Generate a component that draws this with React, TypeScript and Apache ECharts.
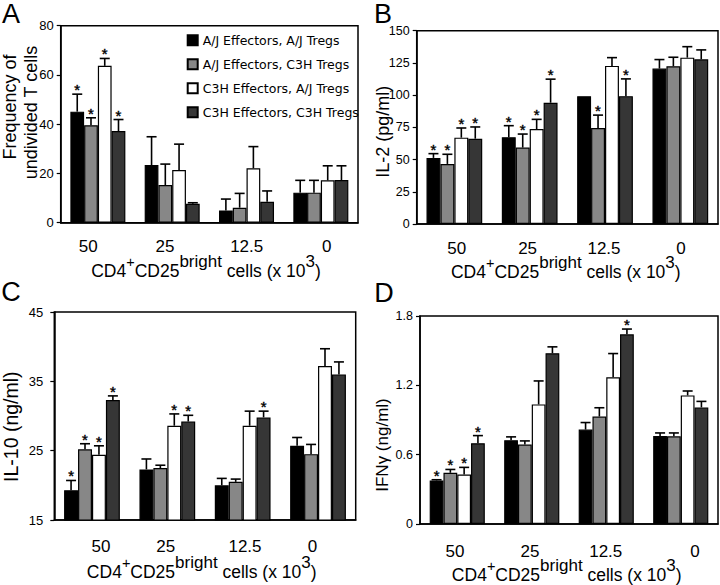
import React, { useEffect, useRef } from 'react';
import * as echarts from 'echarts';

const categories = ['50', '25', '12.5', '0'];
const seriesNames = [
  'A/J Effectors, A/J Tregs',
  'A/J Effectors, C3H Tregs',
  'C3H Effectors, A/J Tregs',
  'C3H Effectors, C3H Tregs',
];

// Panel A: frequency of undivided T cells
const panelATicks = [0, 20, 40, 60, 80];
const panelAMeans = [
  [45.1, 23.4, 5.0, 12.2],
  [39.6, 15.3, 6.1, 12.2],
  [63.7, 21.4, 22.1, 17.2],
  [37.2, 7.7, 8.5, 17.3],
];
const panelAErrors = [
  [7.1, 11.5, 4.6, 5.0],
  [3.0, 8.5, 5.8, 5.0],
  [3.0, 10.5, 8.8, 5.9],
  [4.7, 0.4, 4.4, 5.8],
];
const panelASignificant = [
  [1, 0, 0, 0],
  [1, 0, 0, 0],
  [1, 0, 0, 0],
  [1, 0, 0, 0],
];

// Panel B: IL-2 (pg/ml)
const panelBTicks = [0, 25, 50, 75, 100, 125, 150];
const panelBMeans = [
  [51.3, 67.3, 99.2, 120.6],
  [46.6, 59.3, 74.5, 122.4],
  [67.0, 73.7, 122.7, 129.1],
  [66.2, 94.1, 99.2, 127.8],
];
const panelBErrors = [
  [3.3, 9.0, 0, 7.0],
  [7.5, 10.5, 10.0, 7.0],
  [7.5, 7.5, 6.4, 8.5],
  [9.1, 18.3, 13.4, 7.3],
];
const panelBSignificant = [
  [1, 1, 0, 0],
  [1, 1, 1, 0],
  [1, 1, 0, 0],
  [1, 1, 1, 0],
];

// Panel C: IL-10 (ng/ml)
const panelCTicks = [15, 25, 35, 45];
const panelCMeans = [
  [19.3, 22.3, 20.0, 25.7],
  [25.2, 22.5, 20.5, 24.5],
  [24.4, 28.6, 28.6, 37.2],
  [32.3, 29.2, 29.8, 36.0],
];
const panelCErrors = [
  [1.4, 1.5, 1.0, 1.2],
  [0.8, 0.4, 0.4, 1.4],
  [1.3, 1.7, 2.1, 2.5],
  [0.6, 0.9, 0.9, 1.8],
];
const panelCSignificant = [
  [1, 0, 0, 0],
  [1, 0, 0, 0],
  [1, 1, 0, 0],
  [1, 1, 1, 0],
];

// Panel D: IFNγ (ng/ml)
const panelDTicks = [0, 0.6, 1.2, 1.8];
const panelDMeans = [
  [0.377, 0.725, 0.817, 0.762],
  [0.443, 0.687, 0.93, 0.759],
  [0.429, 1.035, 1.27, 1.113],
  [0.699, 1.478, 1.641, 1.009],
];
const panelDErrors = [
  [0.006, 0.029, 0.061, 0.026],
  [0.029, 0.032, 0.076, 0.029],
  [0.061, 0.203, 0.205, 0.038],
  [0.066, 0.055, 0.046, 0.052],
];
const panelDSignificant = [
  [1, 0, 0, 0],
  [1, 0, 0, 0],
  [1, 0, 0, 0],
  [1, 0, 1, 0],
];

// x-axis title pieces (text, superscript?)
const xTitlePieces: [string, boolean][] = [
  ['CD4', false],
  ['+', true],
  ['CD25', false],
  ['bright', true],
  [' cells (x 10', false],
  ['3', true],
  [')', false],
];

const COLORS = ['#000000', '#878787', '#ffffff', '#363636'];
const FONT = "'Liberation Sans', Arial, sans-serif";
const LEGEND_FONT = "'DejaVu Sans', Verdana, sans-serif";
const BAR_FRACTION = 0.185;
const TITLE_SIZE = 17.5;
const SUP_SIZE = 17;
const PLUS_SIZE = 14.5;
const SUP_RAISE = 10;

const panels = [
  {
    means: panelAMeans, errs: panelAErrors, sig: panelASignificant, ticks: panelATicks,
    grid: { left: 60.7, top: 25.7, width: 297.3, height: 197 },
    yLabelMargin: 7, yLabelSize: 13, xLabelMargin: 15.5, labelDx: [-9.6, -7.2, 0.2, 6],
    title: { x: 206, baseline: 277 }, letter: { text: 'A', x: 11, y: 14 },
  },
  {
    means: panelBMeans, errs: panelBErrors, sig: panelBSignificant, ticks: panelBTicks,
    grid: { left: 416.7, top: 30.7, width: 301.3, height: 193.3 },
    yLabelMargin: 7, yLabelSize: 12.5, xLabelMargin: 15.5, labelDx: [2.4, -2.1, -1, 0.7],
    title: { x: 565.8, baseline: 278 }, letter: { text: 'B', x: 383, y: 14 },
  },
  {
    means: panelCMeans, errs: panelCErrors, sig: panelCSignificant, ticks: panelCTicks,
    grid: { left: 54.3, top: 312, width: 301.4, height: 208 },
    yLabelMargin: 11, yLabelSize: 13, xLabelMargin: 18.2, labelDx: [9, -1.5, 2.3, -5.5],
    title: { x: 201.7, baseline: 578.3 }, letter: { text: 'C', x: 11, y: 292 },
  },
  {
    means: panelDMeans, errs: panelDErrors, sig: panelDSignificant, ticks: panelDTicks,
    grid: { left: 420, top: 316, width: 298, height: 208 },
    yLabelMargin: 7, yLabelSize: 12.5, xLabelMargin: 19, labelDx: [-2.2, -1.7, -0.5, 14.2],
    title: { x: 566.7, baseline: 581 }, letter: { text: 'D', x: 384, y: 293 },
  },
];

const yTitles = [
  { text: 'Frequency of', x: 10, y: 107, size: 18 },
  { text: 'undivided T cells', x: 31, y: 112.5, size: 18 },
  { text: 'IL-2 (pg/ml)', x: 382.5, y: 131.7, size: 18 },
  { text: 'IL-10 (ng/ml)', x: 10.5, y: 426.7, size: 19.5 },
  { text: 'IFNγ (ng/ml)', x: 382.3, y: 445, size: 17 },
];

let measureCtx: CanvasRenderingContext2D | null = null;
function measure(text: string, size: number): number {
  if (!measureCtx) {
    measureCtx = document.createElement('canvas').getContext('2d');
  }
  if (!measureCtx) return text.length * size * 0.55;
  measureCtx.font = `${size}px ${FONT}`;
  return measureCtx.measureText(text).width;
}

function xTitleElements(cx: number, baseline: number): any[] {
  const items = xTitlePieces.map(([t, sup]) => {
    const size = sup ? (t === '+' ? PLUS_SIZE : SUP_SIZE) : TITLE_SIZE;
    const lead = t.startsWith(' ') ? measure(' ', TITLE_SIZE) : 0;
    const text = t.trim();
    return { text, sup, size, lead, w: measure(text, size) };
  });
  const total = items.reduce((a, it) => a + it.lead + it.w, 0);
  let x = cx - total / 2;
  const els: any[] = [];
  items.forEach((it) => {
    x += it.lead;
    const base = it.sup ? baseline - SUP_RAISE : baseline;
    els.push({
      type: 'text', x, y: base - 0.3465 * it.size, silent: true,
      style: {
        text: it.text, fontSize: it.size, fontFamily: FONT, fill: '#000',
        textAlign: 'left', textVerticalAlign: 'middle',
      },
    });
    x += it.w;
  });
  return els;
}

function buildOption() {
  const grids: any[] = [];
  const xAxes: any[] = [];
  const yAxes: any[] = [];
  const series: any[] = [];
  const graphics: any[] = [];

  panels.forEach((p, gi) => {
    grids.push({
      ...p.grid, show: true, borderColor: '#000', borderWidth: 1.5,
      backgroundColor: 'transparent', containLabel: false, outerBoundsMode: 'none',
    });
    const rich: any = {};
    p.labelDx.forEach((dx, i) => {
      rich['c' + i] = {
        fontSize: 17, fontFamily: FONT, color: '#000',
        padding: dx >= 0 ? [0, 0, 0, 2 * dx] : [0, -2 * dx, 0, 0],
      };
    });
    xAxes.push({
      type: 'category', gridIndex: gi, data: categories, boundaryGap: true,
      axisLine: { show: true, lineStyle: { color: '#000', width: 1.5 } },
      axisTick: { show: false },
      splitLine: { show: false },
      axisLabel: {
        interval: 0, margin: p.xLabelMargin, fontSize: 17, fontFamily: FONT, color: '#000',
        formatter: (v: string, i: number) => `{c${i}|${v}}`, rich,
      },
    });
    const t = p.ticks;
    yAxes.push({
      type: 'value', gridIndex: gi, min: t[0], max: t[t.length - 1], interval: t[1] - t[0],
      axisLine: { show: true, lineStyle: { color: '#000', width: 1.5 } },
      axisTick: { show: true, length: 4, lineStyle: { color: '#000', width: 1.2 } },
      splitLine: { show: false },
      axisLabel: { margin: p.yLabelMargin, fontSize: p.yLabelSize, fontFamily: FONT, color: '#000' },
    });
    p.means.forEach((vals, s) => {
      series.push({
        type: 'bar', name: seriesNames[s], xAxisIndex: gi, yAxisIndex: gi,
        data: vals, barWidth: (BAR_FRACTION * 100).toFixed(2) + '%', barGap: '0%',
        clip: true, silent: true,
        itemStyle: { color: COLORS[s], borderColor: '#000', borderWidth: 1.2 },
      });
    });
    const errData: any[] = [];
    p.means.forEach((vals, s) => {
      vals.forEach((v, c) => {
        errData.push([c, v, v + p.errs[s][c], s, p.sig[s][c]]);
      });
    });
    series.push({
      type: 'custom', name: 'errors' + gi, xAxisIndex: gi, yAxisIndex: gi, z: 5, silent: true,
      itemStyle: { color: '#000' },
      data: errData,
      encode: { x: 0, y: [1, 2] },
      renderItem: (params: any, api: any) => {
        const c = api.value(0);
        const v = api.value(1);
        const hi = api.value(2);
        const s = api.value(3);
        const sig = api.value(4);
        const band = api.size([1, 0])[0];
        const bw = band * BAR_FRACTION;
        const p0 = api.coord([c, v]);
        const p1 = api.coord([c, hi]);
        const x = p0[0] + (s - 1.5) * bw;
        const children: any[] = [];
        const lineStyle = { stroke: '#000', lineWidth: 1.6 };
        let top = p0[1];
        if (p0[1] - p1[1] > 0.6) {
          top = p1[1];
          children.push({ type: 'line', shape: { x1: x, y1: p0[1], x2: x, y2: p1[1] }, style: lineStyle });
          children.push({ type: 'line', shape: { x1: x - 5, y1: p1[1], x2: x + 5, y2: p1[1] }, style: lineStyle });
        }
        if (sig) {
          children.push({
            type: 'text', x, y: top - 4.5,
            style: {
              text: '*', fontSize: 15, fontFamily: FONT,
              fill: '#000', stroke: '#000', lineWidth: 0.4,
              align: 'center', verticalAlign: 'middle',
            },
          });
        }
        return { type: 'group', children };
      },
    });

    graphics.push(...xTitleElements(p.title.x, p.title.baseline));
    graphics.push({
      type: 'text', x: p.letter.x, y: p.letter.y, silent: true,
      style: {
        text: p.letter.text, fontSize: 27, fontFamily: FONT, fill: '#000',
        textAlign: 'center', textVerticalAlign: 'middle',
      },
    });
  });

  yTitles.forEach((t) => {
    graphics.push({
      type: 'text', x: t.x, y: t.y, rotation: Math.PI / 2, silent: true,
      style: {
        text: t.text, fontSize: t.size, fontFamily: FONT, fill: '#000',
        textAlign: 'center', textVerticalAlign: 'middle',
      },
    });
  });

  return {
    animation: false,
    backgroundColor: '#ffffff',
    grid: grids,
    xAxis: xAxes,
    yAxis: yAxes,
    series,
    graphic: graphics,
    legend: {
      data: seriesNames, orient: 'vertical', left: 186.7, top: 33.7, padding: 0,
      itemWidth: 10, itemHeight: 10, itemGap: 11, icon: 'rect', selectedMode: false,
      textStyle: { fontFamily: LEGEND_FONT, fontSize: 12.5, color: '#000' },
    },
    tooltip: { show: false },
  };
}

export default function App() {
  const ref = useRef<HTMLDivElement>(null);
  useEffect(() => {
    if (!ref.current) return;
    const chart = echarts.init(ref.current, null, { renderer: 'svg' });
    chart.setOption(buildOption() as any);
    return () => chart.dispose();
  }, []);
  return (
    <div
      ref={ref}
      style={{ position: 'absolute', left: 0, top: 0, width: 720, height: 585, background: '#fff' }}
    />
  );
}
